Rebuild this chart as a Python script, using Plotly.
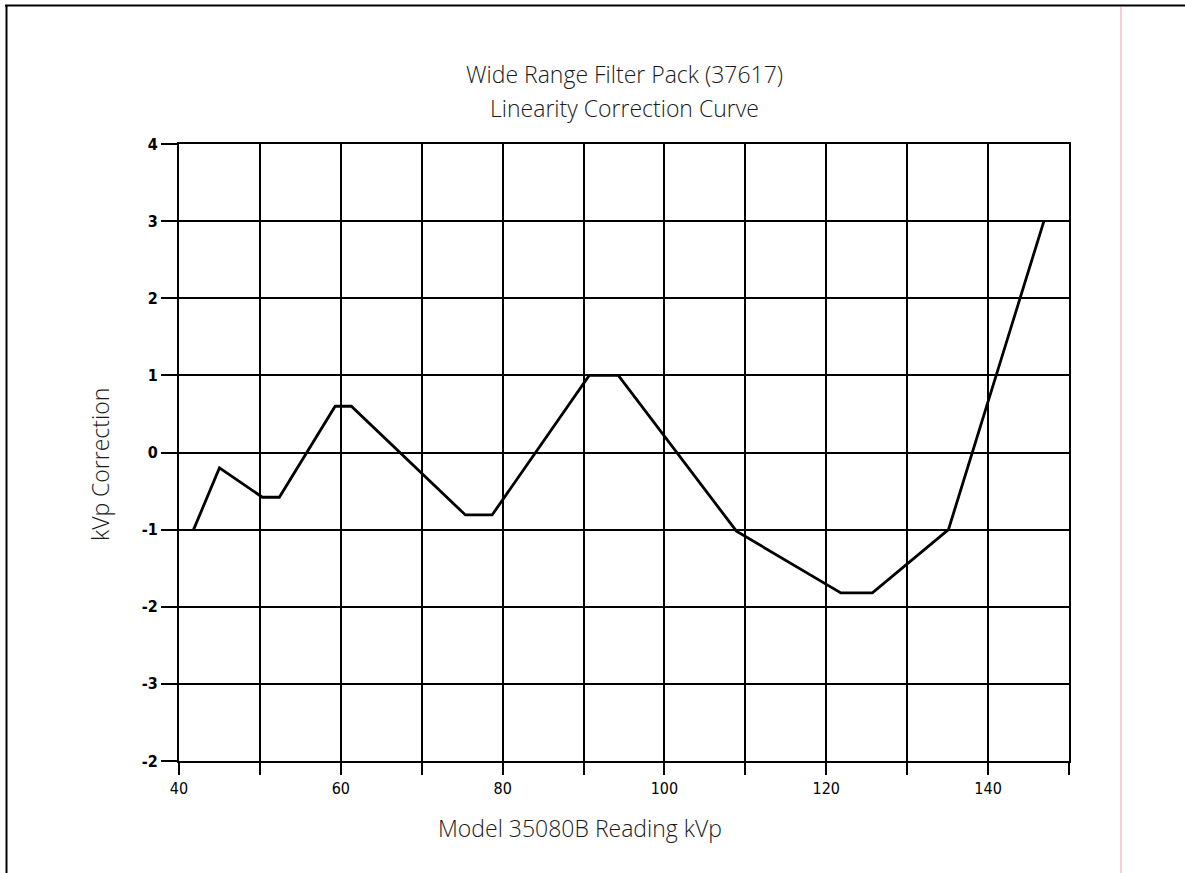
import plotly.graph_objects as go

# Data
kvp_reading = [41.8, 45.0, 50.3, 52.4, 59.3, 61.3, 75.4, 78.7, 90.7, 94.3, 108.9, 121.8, 125.7, 135.1, 146.9]
kvp_correction = [-1.0, -0.2, -0.58, -0.58, 0.6, 0.6, -0.81, -0.81, 1.0, 1.0, -1.02, -1.82, -1.82, -1.0, 3.0]

x_tickvals = [40, 50, 60, 70, 80, 90, 100, 110, 120, 130, 140, 150]
x_ticktext = ["40", "", "60", "", "80", "", "100", "", "120", "", "140", ""]
y_tickvals = [-4, -3, -2, -1, 0, 1, 2, 3, 4]
y_ticktext = ["-2", "-3", "-2", "-1", "0", "1", "2", "3", "4"]

title_line1 = "Wide Range Filter Pack (37617)"
title_line2 = "Linearity Correction Curve"
x_title = "Model 35080B Reading kVp"
y_title = "kVp Correction"

W, H = 1185, 873
L, R, T, B = 179, 1069, 144, 761


def px(x):
    return (x - L) / (R - L)


def py(y):
    return (B - y) / (B - T)


fig = go.Figure()
fig.add_trace(go.Scatter(
    x=kvp_reading, y=kvp_correction, mode="lines",
    line=dict(color="black", width=2.8), hoverinfo="x+y", showlegend=False,
))

tick_font = dict(family="Liberation Sans Narrow, DejaVu Sans Condensed, Arial Narrow, sans-serif",
                 size=16, color="black")
label_font = dict(family="Open Sans, Noto Sans, sans-serif", size=23, color="#1a1a1a", weight=300)

fig.update_layout(
    width=W, height=H,
    margin=dict(l=L, r=W - R, t=T, b=H - B, pad=0),
    paper_bgcolor="white", plot_bgcolor="white",
    xaxis=dict(range=[40, 150], tickmode="array", tickvals=x_tickvals, ticktext=x_ticktext,
               showgrid=True, gridcolor="black", gridwidth=2, zeroline=False,
               showline=True, mirror=True, linecolor="black", linewidth=2,
               ticks="outside", ticklen=12, tickwidth=2, tickcolor="black",
               tickfont=tick_font, fixedrange=True),
    yaxis=dict(range=[-4, 4], tickmode="array", tickvals=y_tickvals, ticktext=y_ticktext,
               showgrid=True, gridcolor="black", gridwidth=2, zeroline=False,
               showline=True, mirror=True, linecolor="black", linewidth=2,
               ticks="outside", ticklen=16, tickwidth=2, tickcolor="black",
               tickfont=dict(tick_font, weight="bold"), fixedrange=True),
    annotations=[
        dict(text=title_line1, xref="paper", yref="paper", x=0.5, y=py(74), xanchor="center",
             yanchor="middle", showarrow=False, font=label_font),
        dict(text=title_line2, xref="paper", yref="paper", x=0.5, y=py(108), xanchor="center",
             yanchor="middle", showarrow=False, font=label_font),
        dict(text=x_title, xref="paper", yref="paper", x=px(580), y=py(828), xanchor="center",
             yanchor="middle", showarrow=False, font=label_font),
        dict(text=y_title, xref="paper", yref="paper", x=px(100), y=py(465), xanchor="center",
             yanchor="middle", textangle=-90, showarrow=False, font=label_font),
    ],
    shapes=[
        dict(type="line", xref="paper", yref="paper", x0=px(5), x1=px(1185), y0=py(5.5), y1=py(5.5),
             line=dict(color="black", width=2)),
        dict(type="line", xref="paper", yref="paper", x0=px(6.5), x1=px(6.5), y0=py(5), y1=py(873),
             line=dict(color="black", width=2)),
        dict(type="line", xref="paper", yref="paper", x0=px(1121), x1=px(1121), y0=py(7), y1=py(873),
             line=dict(color="#f2a0a0", width=1)),
    ],
)

fig.write_html("out.html", config={"displayModeBar": False},
               post_script="document.body.style.margin='0';")
